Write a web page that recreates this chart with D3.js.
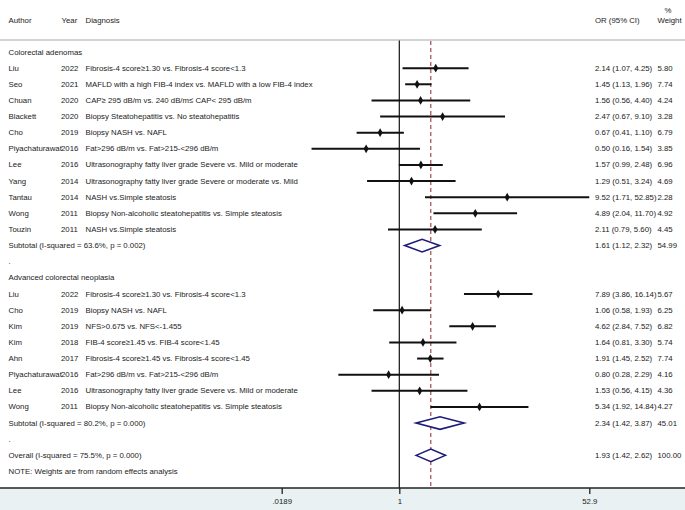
<!DOCTYPE html>
<html>
<head>
<meta charset="utf-8">
<script src="https://cdn.jsdelivr.net/npm/d3@7"></script>
<style>
  html, body { margin: 0; padding: 0; background: #fff; }
  svg { display: block; }
  text { font-family: "Liberation Sans", Arial, sans-serif; font-size: 7.8px; fill: #222; }
</style>
</head>
<body>
<svg id="chart" width="685" height="510"></svg>
<script>
// ---------- data ----------
const groupTitles = ["Colorectal adenomas", "Advanced colorectal neoplasia"];

const authorsA   = ["Liu", "Seo", "Chuan", "Blackett", "Cho", "Piyachaturawat", "Lee", "Yang", "Tantau", "Wong", "Touzin"];
const yearsA     = [2022, 2021, 2020, 2020, 2019, 2016, 2016, 2014, 2014, 2011, 2011];
const diagnosisA = [
  "Fibrosis-4 score≥1.30 vs. Fibrosis-4 score<1.3",
  "MAFLD with a high FIB-4 index vs. MAFLD with a low FIB-4 index",
  "CAP≥ 295 dB/m vs. 240 dB/m≤ CAP< 295 dB/m",
  "Biopsy Steatohepatitis vs. No steatohepatitis",
  "Biopsy NASH vs. NAFL",
  "Fat>296 dB/m vs. Fat>215-<296 dB/m",
  "Ultrasonography fatty liver grade Severe vs. Mild or moderate",
  "Ultrasonography fatty liver grade Severe or moderate vs. Mild",
  "NASH vs.Simple steatosis",
  "Biopsy Non-alcoholic steatohepatitis vs. Simple steatosis",
  "NASH vs.Simple steatosis"
];
const orA     = [2.14, 1.45, 1.56, 2.47, 0.67, 0.50, 1.57, 1.29, 9.52, 4.89, 2.11];
const lowerA  = [1.07, 1.13, 0.56, 0.67, 0.41, 0.16, 0.99, 0.51, 1.71, 2.04, 0.79];
const upperA  = [4.25, 1.96, 4.40, 9.10, 1.10, 1.54, 2.48, 3.24, 52.85, 11.70, 5.60];
const weightA = [5.80, 7.74, 4.24, 3.28, 6.79, 3.85, 6.96, 4.69, 2.28, 4.92, 4.45];

const authorsB   = ["Liu", "Cho", "Kim", "Kim", "Ahn", "Piyachaturawat", "Lee", "Wong"];
const yearsB     = [2022, 2019, 2019, 2018, 2017, 2016, 2016, 2011];
const diagnosisB = [
  "Fibrosis-4 score≥1.30 vs. Fibrosis-4 score<1.3",
  "Biopsy NASH vs. NAFL",
  "NFS>0.675 vs. NFS<-1.455",
  "FIB-4 score≥1.45 vs. FIB-4 score<1.45",
  "Fibrosis-4 score≥1.45 vs. Fibrosis-4 score<1.45",
  "Fat>296 dB/m vs. Fat>215-<296 dB/m",
  "Ultrasonography fatty liver grade Severe vs. Mild or moderate",
  "Biopsy Non-alcoholic steatohepatitis vs. Simple steatosis"
];
const orB     = [7.89, 1.06, 4.62, 1.64, 1.91, 0.80, 1.53, 5.34];
const lowerB  = [3.86, 0.58, 2.84, 0.81, 1.45, 0.28, 0.56, 1.92];
const upperB  = [16.14, 1.93, 7.52, 3.30, 2.52, 2.29, 4.15, 14.84];
const weightB = [5.67, 6.25, 6.82, 5.74, 7.74, 4.16, 4.36, 4.27];

const pooledLabels = ["Subtotal  (I-squared = 63.6%, p = 0.002)", "Subtotal  (I-squared = 80.2%, p = 0.000)", "Overall  (I-squared = 75.5%, p = 0.000)"];
const pooledOR     = [1.61, 2.34, 1.93];
const pooledLower  = [1.12, 1.42, 1.42];
const pooledUpper  = [2.32, 3.87, 2.62];
const pooledWeight = [54.99, 45.01, 100.00];

const tickValues = [0.0189, 1, 52.9];
const tickLabels = [".0189", "1", "52.9"];
const noteText = "NOTE: Weights are from random effects analysis";

// ---------- layout ----------
const W = 685, H = 510;
const svg = d3.select("#chart");
const f2 = d3.format(".2f");

// Build rows
const rows = [];
function addGroup(gi, authors, years, diag, or, lo, hi, wt) {
  rows.push({type: "title", label: groupTitles[gi]});
  authors.forEach((a, i) => rows.push({type: "study", author: a, year: years[i], diag: diag[i], or: or[i], lo: lo[i], hi: hi[i], w: wt[i]}));
  rows.push({type: "pooled", label: pooledLabels[gi], or: pooledOR[gi], lo: pooledLower[gi], hi: pooledUpper[gi], w: pooledWeight[gi]});
  rows.push({type: "blank"});
}
addGroup(0, authorsA, yearsA, diagnosisA, orA, lowerA, upperA, weightA);
addGroup(1, authorsB, yearsB, diagnosisB, orB, lowerB, upperB, weightB);
rows.push({type: "pooled", label: pooledLabels[2], or: pooledOR[2], lo: pooledLower[2], hi: pooledUpper[2], w: pooledWeight[2]});
rows.push({type: "note", label: noteText});

const y = d3.scaleLinear().domain([0, rows.length - 1]).range([52, 471.5]);

// data scale (log, symmetric around 1)
const x = d3.scaleLog().domain([1 / 52.9, 52.9]).range([209.3, 589.3]);
// axis scale as drawn in the figure
const xAxisScale = d3.scaleLog().domain(tickValues).range([281.7, x(1), x(52.9)]);

const headerLineY = 40, axisY = 488;

// axis band
svg.append("rect").attr("x", 0).attr("y", axisY).attr("width", W).attr("height", H - axisY)
  .attr("fill", "#eaf1f3");

// header
const colAuthor = 8.5, colYear = 61, colDiag = 85.5, colOR = 595, colW = 657.5;
svg.append("text").attr("x", colAuthor).attr("y", 20).attr("dominant-baseline", "central").text("Author");
svg.append("text").attr("x", colYear + 0.5).attr("y", 20).attr("dominant-baseline", "central").text("Year");
svg.append("text").attr("x", colDiag).attr("y", 20).attr("dominant-baseline", "central").text("Diagnosis");
svg.append("text").attr("x", colOR).attr("y", 20).attr("dominant-baseline", "central").text("OR (95% CI)");
svg.append("text").attr("x", colW).attr("y", 20).attr("dominant-baseline", "central").text("Weight");
svg.append("text").attr("x", colW + 7).attr("y", 10).attr("dominant-baseline", "central").text("%");

svg.append("line").attr("x1", 0).attr("x2", W).attr("y1", headerLineY).attr("y2", headerLineY)
  .attr("stroke", "#c4c4c4").attr("stroke-width", 1.5);

// reference lines
svg.append("line").attr("x1", x(1)).attr("x2", x(1)).attr("y1", headerLineY + 0.5).attr("y2", axisY)
  .attr("stroke", "#111").attr("stroke-width", 1.2);
svg.append("line").attr("x1", x(pooledOR[2])).attr("x2", x(pooledOR[2])).attr("y1", headerLineY + 1).attr("y2", axisY)
  .attr("stroke", "#a8474c").attr("stroke-width", 1.2).attr("stroke-dasharray", "4,3");

// rows
const g = svg.append("g");
rows.forEach((r, i) => {
  const yy = y(i);
  if (r.type === "title") {
    g.append("text").attr("x", colAuthor).attr("y", yy).attr("dominant-baseline", "central").text(r.label);
  } else if (r.type === "study") {
    g.append("text").attr("x", colAuthor).attr("y", yy).attr("dominant-baseline", "central").text(r.author);
    g.append("text").attr("x", colYear).attr("y", yy).attr("dominant-baseline", "central").text(r.year);
    g.append("text").attr("x", colDiag).attr("y", yy).attr("dominant-baseline", "central").text(r.diag);
    g.append("text").attr("x", colOR).attr("y", yy).attr("dominant-baseline", "central")
      .text(`${f2(r.or)} (${f2(r.lo)}, ${f2(r.hi)})`);
    g.append("text").attr("x", colW).attr("y", yy).attr("dominant-baseline", "central").text(f2(r.w));
    g.append("line").attr("x1", x(r.lo)).attr("x2", x(r.hi)).attr("y1", yy).attr("y2", yy)
      .attr("stroke", "#111").attr("stroke-width", 2);
    g.append("path").attr("d", d3.symbol(d3.symbolDiamond, 22)())
      .attr("transform", `translate(${x(r.or)},${yy})`).attr("fill", "#111");
  } else if (r.type === "pooled") {
    g.append("text").attr("x", colAuthor).attr("y", yy).attr("dominant-baseline", "central").text(r.label);
    g.append("text").attr("x", colOR).attr("y", yy).attr("dominant-baseline", "central")
      .text(`${f2(r.or)} (${f2(r.lo)}, ${f2(r.hi)})`);
    g.append("text").attr("x", colW).attr("y", yy).attr("dominant-baseline", "central").text(f2(r.w));
    const h = 6.3;
    const pts = [[x(r.lo), yy], [x(r.or), yy - h], [x(r.hi), yy], [x(r.or), yy + h]];
    g.append("path").attr("d", d3.line()(pts) + "Z")
      .attr("fill", "#fff").attr("stroke", "#1c1c78").attr("stroke-width", 1.6).attr("stroke-linejoin", "miter");
  } else if (r.type === "blank") {
    g.append("text").attr("x", colAuthor).attr("y", yy).attr("dominant-baseline", "central")
      .attr("fill", "#999").text(".");
  } else if (r.type === "note") {
    g.append("text").attr("x", colAuthor).attr("y", yy).attr("dominant-baseline", "central").text(r.label);
  }
});

// axis
svg.append("line").attr("x1", 0).attr("x2", W).attr("y1", axisY).attr("y2", axisY)
  .attr("stroke", "#222").attr("stroke-width", 1.3);
const axis = d3.axisBottom(xAxisScale).tickValues(tickValues)
  .tickFormat((d, i) => tickLabels[i]).tickSize(6).tickSizeOuter(0);
const ax = svg.append("g").attr("transform", `translate(0,${axisY})`).call(axis);
ax.select(".domain").remove();
ax.selectAll(".tick line").attr("stroke", "#222").attr("stroke-width", 1.3);
ax.selectAll(".tick text").attr("font-family", "Liberation Sans, Arial, sans-serif")
  .attr("font-size", 7.8).attr("fill", "#222").attr("dy", "0.71em").attr("y", 10);
</script>
</body>
</html>
